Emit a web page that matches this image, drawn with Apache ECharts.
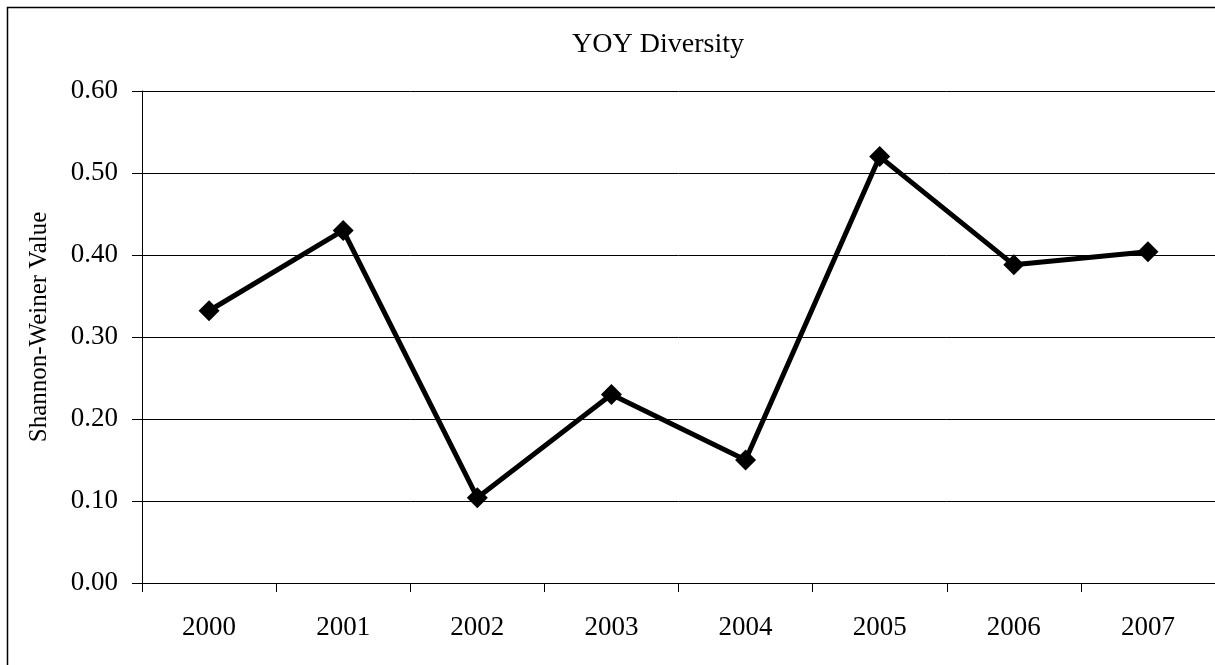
<!DOCTYPE html>
<html>
<head>
<meta charset="utf-8">
<script src="https://cdn.jsdelivr.net/npm/echarts@6/dist/echarts.min.js"></script>
<style>
  html, body { margin: 0; padding: 0; background: #fff; }
  #chart { width: 1215px; height: 665px; }
</style>
</head>
<body>
<div id="chart"></div>
<script>
// Year-over-year Shannon-Weiner diversity index
const years = ['2000', '2001', '2002', '2003', '2004', '2005', '2006', '2007'];
const diversity = [0.332, 0.430, 0.104, 0.230, 0.150, 0.520, 0.388, 0.404];

const serif = '"Liberation Serif", "Times New Roman", serif';

const chart = echarts.init(document.getElementById('chart'), null, { renderer: 'canvas' });

chart.setOption({
  animation: false,
  backgroundColor: '#ffffff',
  title: {
    text: 'YOY Diversity',
    left: 658,
    top: 31,
    padding: 0,
    textAlign: 'center',
    textStyle: { fontFamily: serif, fontSize: 28, fontWeight: 'normal', color: '#000' }
  },
  graphic: [{
    type: 'rect',
    left: 5,
    top: 5,
    shape: { width: 1230, height: 680 },
    style: { fill: 'none', stroke: '#000', lineWidth: 1.5 },
    silent: true
  }],
  grid: { left: 142, top: 91, right: 0, bottom: 82, containLabel: false },
  xAxis: {
    type: 'category',
    data: years,
    boundaryGap: true,
    axisLine: { show: true, lineStyle: { color: '#000', width: 1 } },
    axisTick: { show: true, length: 9, inside: false, lineStyle: { color: '#000' } },
    axisLabel: { margin: 31, fontFamily: serif, fontSize: 27, color: '#000' },
    splitLine: { show: false }
  },
  yAxis: {
    type: 'value',
    min: 0,
    max: 0.6,
    interval: 0.1,
    name: 'Shannon-Weiner Value',
    nameLocation: 'middle',
    nameRotate: 90,
    nameGap: 90,
    nameTextStyle: { fontFamily: serif, fontSize: 25, color: '#000', padding: [0, 0, 0, 20] },
    axisLine: { show: true, lineStyle: { color: '#000', width: 1 } },
    axisTick: { show: true, length: 10, inside: false, lineStyle: { color: '#000' } },
    axisLabel: {
      margin: 24,
      fontFamily: serif,
      fontSize: 27,
      color: '#000',
      formatter: v => v.toFixed(2)
    },
    splitLine: { show: true, lineStyle: { color: '#000', width: 1 } }
  },
  series: [{
    type: 'line',
    data: diversity,
    symbol: 'diamond',
    symbolSize: 21,
    lineStyle: { color: '#000', width: 5 },
    itemStyle: { color: '#000' },
    z: 3
  }]
});
</script>
</body>
</html>
